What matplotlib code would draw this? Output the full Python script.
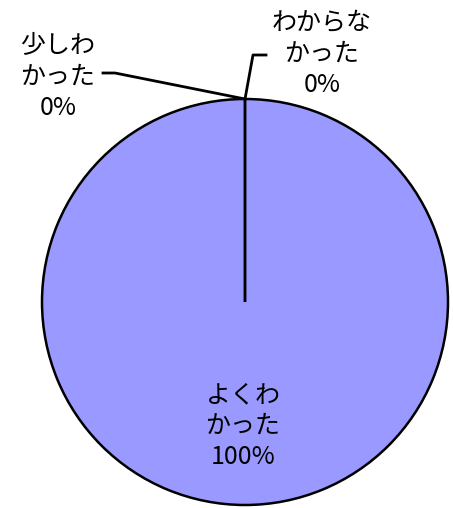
import matplotlib
matplotlib.use("Agg")
from matplotlib import pyplot as plt

plt.rcParams['font.family'] = ['Noto Sans CJK JP', 'DejaVu Sans']

labels = ["よくわ\nかった", "少しわ\nかった", "わからな\nかった"]
values = [100, 0, 0]
colors = ["#9999FF", "#993366", "#FFFFCC"]

W, H = 453, 508
cx, cy, r = 245, 302, 203

fig = plt.figure(figsize=(W / 100, H / 100), dpi=100)
ax = fig.add_axes([0, 0, 1, 1])
ax.axis('off')

wedges, _ = ax.pie(values, colors=colors, startangle=90, counterclock=False,
                   radius=1, wedgeprops=dict(edgecolor='black', linewidth=1.8))
ax.set_xlim(-cx / r, (W - cx) / r)
ax.set_ylim(-(H - cy) / r, cy / r)
ax.set_aspect('auto')

total = sum(values)
pct = ["%d%%" % round(v * 100 / total) for v in values]

def px(x, y):
    return ((x - cx) / r, (cy - y) / r)

fs = 18
ls = 1.25
# main slice label
ax.text(*px(243, 426), labels[0] + "\n" + pct[0], ha='center', va='center',
        fontsize=fs, linespacing=ls)

# leader lines for 0% slices
top = px(245, 99)
p1 = px(115, 73)
p2 = px(103, 73)
ax.plot([top[0], p1[0], p2[0]], [top[1], p1[1], p2[1]], color='black', lw=2)
ax.text(*px(58, 77), labels[1] + "\n" + pct[1], ha='center', va='center',
        fontsize=fs, linespacing=ls)

q1 = px(253, 55)
q2 = px(266, 55)
ax.plot([top[0], q1[0], q2[0]], [top[1], q1[1], q2[1]], color='black', lw=2)
ax.text(*px(322, 54), labels[2] + "\n" + pct[2], ha='center', va='center',
        fontsize=fs, linespacing=ls)

fig.savefig("out.png", dpi=100)
